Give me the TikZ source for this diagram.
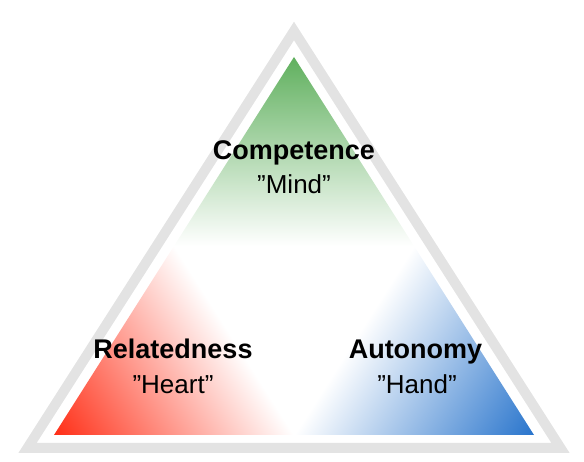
\documentclass[tikz,border=0pt]{standalone}
\usepackage{fontspec}
\setmainfont{Liberation Sans}
\definecolor{framegray}{HTML}{E3E3E3}
\definecolor{compgreen}{RGB}{96,176,94}
\definecolor{relred}{RGB}{255,46,22}
\definecolor{autblue}{RGB}{40,116,204}
\tikzset{
  frame/.style={draw=framegray, line width=10pt, line join=miter},
  headtext/.style={anchor=base, font=\fontsize{27}{31}\selectfont\bfseries, inner sep=0pt},
  subtext/.style={anchor=base, font=\fontsize{26}{30}\selectfont, inner sep=0pt}
}
\begin{document}
\begin{tikzpicture}[x=1pt,y=1pt]
\useasboundingbox (0,0) rectangle (584,462);
% corners of the coloured triangle
\coordinate (A) at (294,405);
\coordinate (BL) at (54,27);
\coordinate (BR) at (534,27);
% outer frame
\coordinate (FA) at (294,431);
\coordinate (FL) at (27.5,14);
\coordinate (FR) at (560.5,14);
\draw[frame] (FL) -- (FR) -- (FA) -- cycle;
\begin{scope}
  \clip (A) -- (BL) -- (BR) -- cycle;
  % green corner
  \shade[top color=compgreen, bottom color=white] (40,216) rectangle (550,405);
  % red corner
  \begin{scope}[transform canvas={rotate around={32.41:(54,27)}}]
    \shade[left color=relred, right color=white] (54,-400) rectangle (256.6,450);
  \end{scope}
  % blue corner
  \begin{scope}[transform canvas={rotate around={-32.41:(534,27)}}]
    \shade[left color=white, right color=autblue] (331.4,-400) rectangle (534,450);
  \end{scope}
\end{scope}
\node[headtext] (comp) at (294,302.7) {Competence};
\node[subtext] (mind) at (294,268.7) {”Mind”};
\node[headtext] (rel) at (173,103.7) {Relatedness};
\node[subtext] (heart) at (173,68.7) {”Heart”};
\node[headtext] (aut) at (415.5,103.7) {Autonomy};
\node[subtext] (hand) at (417,68.7) {”Hand”};
\end{tikzpicture}
\end{document}
